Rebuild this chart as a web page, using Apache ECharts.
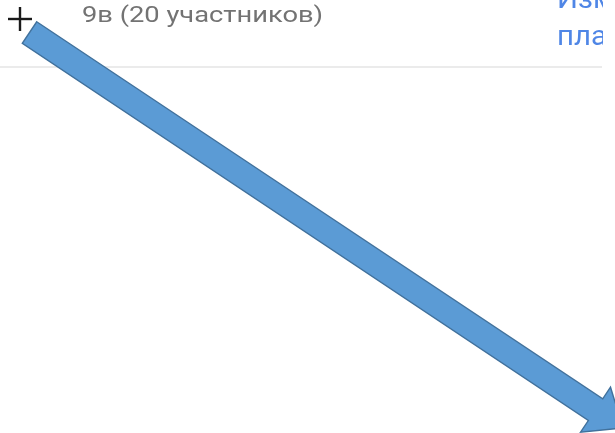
<!DOCTYPE html>
<html>
<head>
<meta charset="utf-8">
<script src="https://cdn.jsdelivr.net/npm/echarts@6/dist/echarts.min.js"></script>
<style>
html,body{margin:0;padding:0;background:#fff;}
#chart{width:615px;height:433px;}
</style>
</head>
<body>
<div id="chart"></div>
<script>
// Data (pixel-like data space: x 0..615, y 0..433 from top)
const headerTitle = '9в (20 участников)';
const sideLinkLines = ['Изм', 'пла'];
const arrowStart = [29.5, 32.6];   // tail centre
const arrowEnd = [623, 428];       // tip
const arrows = [[arrowStart[0], arrowStart[1], arrowEnd[0], arrowEnd[1]]];

const chart = echarts.init(document.getElementById('chart'), null, {renderer: 'canvas'});

const SHAFT_W = 26, HEAD_W = 54, HEAD_L = 33;

chart.setOption({
  backgroundColor: '#ffffff',
  animation: false,
  grid: {left: 0, right: 0, top: 0, bottom: 0},
  xAxis: {type: 'value', min: 0, max: 615, show: false},
  yAxis: {type: 'value', min: 0, max: 433, inverse: true, show: false},
  graphic: [
    {type: 'line', z: 1, shape: {x1: 0, y1: 67, x2: 602, y2: 67}, style: {stroke: '#ebebeb', lineWidth: 2}},
    {type: 'text', z: 1, x: 82, y: 5, scaleX: 1.24, style: {text: headerTitle, font: '400 22px Roboto', fill: '#737373'}},
    {type: 'text', z: 1, x: 557, y: -18, scaleX: 1.05, style: {text: sideLinkLines.join('\n'), font: '400 28px Roboto', lineHeight: 37, fill: '#4f86e6'}},
    {type: 'rect', z: 2, shape: {x: 603, y: 0, width: 12, height: 66}, style: {fill: '#ffffff'}},
    {type: 'line', z: 1, shape: {x1: 8, y1: 19, x2: 32, y2: 19}, style: {stroke: '#1a1a1a', lineWidth: 2.4}},
    {type: 'line', z: 1, shape: {x1: 20, y1: 7, x2: 20, y2: 31}, style: {stroke: '#1a1a1a', lineWidth: 2.4}}
  ],
  series: [{
    type: 'custom',
    coordinateSystem: 'cartesian2d',
    clip: false,
    z: 10,
    data: arrows,
    renderItem: function (params, api) {
      const p0 = api.coord([api.value(0), api.value(1)]);
      const p1 = api.coord([api.value(2), api.value(3)]);
      const dx = p1[0] - p0[0], dy = p1[1] - p0[1];
      const len = Math.sqrt(dx * dx + dy * dy);
      const ux = dx / len, uy = dy / len;
      const nx = -uy, ny = ux;
      const bx = p1[0] - ux * HEAD_L, by = p1[1] - uy * HEAD_L;
      const hs = SHAFT_W / 2, hh = HEAD_W / 2;
      const pts = [
        [p0[0] - nx * hs, p0[1] - ny * hs],
        [bx - nx * hs, by - ny * hs],
        [bx - nx * hh, by - ny * hh],
        [p1[0], p1[1]],
        [bx + nx * hh, by + ny * hh],
        [bx + nx * hs, by + ny * hs],
        [p0[0] + nx * hs, p0[1] + ny * hs]
      ];
      return {
        type: 'polygon',
        shape: {points: pts},
        style: {fill: '#5b9bd5', stroke: '#41719c', lineWidth: 1.4}
      };
    }
  }]
});
</script>
</body>
</html>
